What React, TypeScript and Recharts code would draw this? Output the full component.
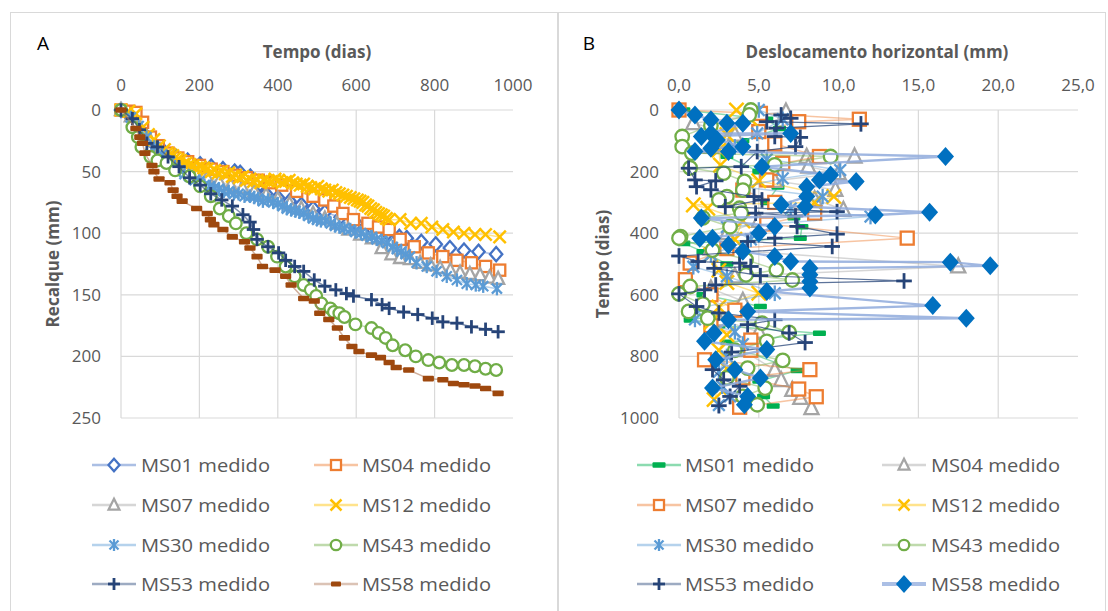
import React from 'react';
import { ScatterChart, Scatter, XAxis, YAxis, CartesianGrid, Legend, Label } from 'recharts';

// ---------- axis ticks ----------
const A_TIME_TICKS = [0, 200, 400, 600, 800, 1000];
const A_SETTLE_TICKS = [0, 50, 100, 150, 200, 250];
const B_DISP_TICKS = [0, 5, 10, 15, 20, 25];
const B_TIME_TICKS = [0, 200, 400, 600, 800, 1000];

// ---------- Panel A : [tempo (dias), recalque (mm)] ----------
const A_MS01 = [[0,0],[20,4],[40,12],[60,20],[85,28],[110,34],[140,38],[170,41],[202,44],[230,46],[260,48],[290,50],[304,51],[330,54],[355,60],[370,68],[400,71],[430,74],[460,77],[490,80],[520,83],[560,87],[600,92],[640,96],[680,100],[710,103],[729,104],[766,107],[803,109],[839,112],[875,114],[912,115],[957,117]];
const A_MS04 = [[0,0],[20,1],[38,2],[55,10],[75,22],[95,29],[120,35],[145,39],[170,42],[200,45],[230,48],[260,50],[290,53],[320,55],[350,57],[380,59],[410,61],[448,66],[490,70],[520,73],[543,78],[566,84],[593,89],[630,92],[657,95],[684,97],[712,105],[748,111],[784,116],[821,119],[857,122],[894,124],[930,127],[966,130]];
const A_MS07 = [[0,0],[25,5],[50,15],[75,25],[100,33],[130,40],[160,46],[190,51],[220,55],[250,58],[280,61],[310,63],[340,66],[370,69],[400,72],[430,76],[460,80],[490,84],[520,88],[550,92],[580,97],[610,101],[640,104],[665,112],[690,117],[712,120],[737,121],[763,124],[790,126],[814,128],[840,130],[865,132],[890,133],[916,134],[940,136],[962,137]];
const A_MS12 = [[0,0],[20,1],[38,3],[56,14],[70,20],[84,24],[98,29],[111,32],[118,35],[125,36],[132,37],[138,39],[145,40],[152,41],[159,44],[166,43],[175,44],[184,45],[193,47],[202,46],[211,47],[220,48],[230,50],[239,49],[248,51],[257,50],[266,52],[275,51],[284,54],[293,53],[302,55],[311,54],[320,57],[329,56],[338,58],[347,57],[356,59],[365,57],[375,58],[384,58],[393,56],[402,57],[411,59],[420,58],[429,57],[438,59],[447,60],[457,61],[466,60],[475,62],[484,63],[493,64],[502,62],[511,64],[520,65],[530,66],[539,65],[548,67],[557,68],[566,69],[575,70],[585,71],[594,72],[603,73],[610,74],[617,75],[624,77],[630,78],[637,80],[644,81],[650,83],[657,84],[664,85],[670,86],[677,88],[684,89],[712,89],[739,92],[766,92],[793,95],[821,97],[848,99],[875,100],[903,101],[930,101],[966,103]];
const A_MS30 = [[0,0],[25,6],[45,13],[65,22],[85,30],[105,36],[125,42],[138,46],[150,49],[162,52],[175,54],[188,57],[200,58],[213,61],[227,62],[238,63],[250,64],[262,66],[275,66],[288,68],[300,68],[315,70],[329,70],[340,71],[350,72],[362,74],[375,73],[388,75],[400,76],[412,78],[423,80],[434,81],[445,82],[455,83],[466,84],[478,86],[490,88],[500,89],[510,90],[522,90],[535,92],[546,94],[557,95],[570,96],[585,97],[598,99],[612,100],[626,102],[640,103],[652,105],[665,106],[679,108],[693,111],[704,113],[715,115],[726,117],[737,119],[754,124],[780,127],[805,131],[831,135],[857,138],[882,141],[905,142],[924,143],[959,145]];
const A_MS43 = [[0,0],[29,14],[43,22],[52,30],[75,38],[93,41],[116,43],[138,49],[175,54],[202,62],[229,70],[252,80],[275,86],[293,92],[320,100],[347,105],[375,111],[398,119],[420,127],[443,135],[466,142],[484,146],[498,151],[511,157],[534,161],[543,164],[557,165],[570,168],[598,174],[639,177],[657,181],[675,185],[693,191],[725,195],[752,200],[784,203],[812,205],[844,207],[875,207],[903,208],[930,210],[957,211]];
const A_MS53 = [[0,0],[29,7],[47,16],[66,27],[93,30],[120,38],[148,46],[175,55],[202,61],[229,68],[257,73],[284,78],[311,85],[329,91],[338,97],[347,105],[375,111],[402,116],[420,122],[443,127],[466,131],[493,138],[520,143],[548,146],[575,149],[593,151],[639,154],[666,158],[684,161],[721,164],[757,166],[794,169],[821,172],[857,173],[894,176],[930,178],[962,180]];
const A_MS58 = [[0,0],[38,15],[48,22],[55,27],[61,35],[79,45],[84,50],[97,56],[125,59],[133,65],[143,70],[156,74],[193,80],[220,84],[228,89],[237,93],[260,97],[284,103],[315,107],[329,112],[347,119],[361,127],[393,130],[420,135],[434,142],[466,153],[493,155],[507,165],[530,170],[552,177],[570,185],[589,192],[607,196],[639,199],[662,201],[684,205],[702,209],[734,211],[784,218],[821,219],[848,222],[875,223],[903,224],[930,226],[962,230]];

// ---------- Panel B : [tempo (dias), deslocamento horizontal (mm)] ----------
const B_MS01 = [[0,0.3],[30,5.5],[60,6.3],[100,4.0],[150,3.0],[200,5.0],[250,6.2],[300,5.5],[350,7.2],[379,7.7],[416,7.6],[433,0.3],[460,1.5],[500,3.0],[550,4.0],[600,1.5],[638,5.1],[682,0.7],[700,2.5],[725,8.8],[754,3.0],[790,4.5],[846,7.4],[880,5.0],[930,5.3],[961,5.9]];
const B_MS04 = [[5,6.7],[43,0.9],[80,3.5],[120,2.0],[151,11.0],[152,8.0],[184,8.1],[205,10.0],[230,6.0],[259,9.8],[290,8.5],[324,10.3],[360,5.0],[400,3.0],[450,2.0],[508,17.5],[540,3.5],[580,2.0],[620,4.0],[680,2.5],[720,5.0],[780,4.0],[844,6.0],[877,6.4],[909,7.1],[935,7.6],[968,8.3]];
const B_MS07 = [[0,0],[11,5.1],[30,11.3],[38,7.5],[70,5.0],[110,6.0],[151,8.8],[173,6.5],[189,5.8],[227,5.5],[260,4.0],[300,6.0],[335,8.5],[370,5.5],[416,14.3],[450,3.0],[497,0.7],[551,0.4],[600,2.0],[650,3.5],[700,2.0],[747,4.5],[780,4.5],[811,1.6],[843,8.2],[870,4.0],[906,7.5],[931,8.6],[965,3.8]];
const B_MS12 = [[0,3.6],[30,4.5],[80,3.0],[130,2.5],[179,2.6],[230,5.0],[281,9.7],[300,8.5],[308,0.9],[319,1.8],[360,4.0],[420,3.5],[470,2.0],[520,2.5],[560,3.0],[595,5.0],[640,2.5],[690,2.0],[730,3.0],[780,2.5],[840,3.0],[900,2.5],[940,2.2]];
const B_MS30 = [[0,5.0],[30,6.5],[76,4.9],[120,3.5],[160,5.5],[195,10.1],[222,6.5],[250,4.0],[281,9.0],[320,7.0],[346,12.0],[380,3.0],[420,4.5],[470,2.0],[509,0.9],[540,3.0],[595,6.0],[640,1.5],[680,1.0],[720,3.5],[760,4.0],[800,3.0],[850,2.5],[897,2.7],[930,3.2],[958,2.5]];
const B_MS43 = [[0,4.5],[16,4.4],[50,2.0],[86,0.2],[119,0.2],[140,0.8],[151,9.5],[178,6.0],[188,0.7],[205,2.8],[232,4.1],[260,4.0],[281,3.0],[292,2.5],[319,3.8],[335,3.9],[350,1.5],[379,3.2],[411,0.1],[416,0],[455,2.1],[486,4.2],[519,6.1],[535,4.2],[552,7.1],[573,0.7],[597,0],[630,1.5],[654,0.6],[676,1.8],[692,5.2],[722,6.9],[751,5.5],[780,3.5],[813,6.5],[838,4.3],[870,3.0],[903,5.4],[930,4.0],[957,4.9]];
const B_MS53 = [[16,6.4],[27,7.0],[38,5.5],[45,11.4],[59,6.1],[86,6.0],[89,7.6],[119,7.3],[135,4.9],[184,3.9],[189,0.6],[227,1.0],[230,2.3],[249,1.1],[259,2.0],[281,4.7],[292,5.2],[314,2.9],[330,9.9],[335,4.8],[344,7.3],[378,7.4],[403,9.9],[416,6.0],[427,4.3],[443,9.6],[474,0],[492,1.2],[497,3.8],[508,4.5],[514,2.2],[538,5.1],[555,14.1],[568,2.3],[584,1.6],[597,0],[638,1.1],[659,2.5],[681,6.0],[697,4.3],[724,6.9],[755,7.9],[786,3.3],[843,2.1],[876,2.8],[897,3.8],[930,3.2],[960,2.5]];
const B_MS58 = [[0,0],[16,1.0],[32,2.0],[43,3.0],[43,4.0],[76,2.0],[76,7.0],[86,1.4],[97,2.4],[119,4.0],[124,2.0],[135,1.0],[135,3.1],[151,16.7],[184,5.2],[211,9.5],[227,8.8],[232,11.1],[249,8.0],[281,8.0],[308,6.4],[314,7.9],[332,15.7],[341,12.3],[351,1.4],[378,6.0],[400,5.0],[416,1.3],[416,2.1],[438,3.1],[459,4.0],[476,6.0],[492,7.0],[494,17.0],[506,19.5],[514,8.2],[535,8.2],[557,8.2],[578,8.2],[589,5.5],[635,15.9],[654,4.3],[676,18.0],[681,3.1],[724,2.2],[751,1.6],[778,5.5],[811,2.3],[843,3.5],[870,5.1],[903,2.1],[930,4.3],[957,4.1]];

// ---------- styles ----------
const FONT = '"Open Sans", "Noto Sans", sans-serif';
const TICK = { fill: '#595959', fontSize: 17, fontFamily: FONT };
const GRID = '#D9D9D9';
const fmtComma = (v: number) => v.toFixed(1).replace('.', ',');
const toA = (p: number[][]) => p.map(([t, r]) => ({ x: t, y: r }));
const toB = (p: number[][]) => p.map(([t, d]) => ({ x: d, y: t }));

type S = { name: string; data: { x: number; y: number }[]; kind: string; color: string; line: string; lw: number; lo: number };

const SERIES_A: S[] = [
  { name: 'MS01 medido', data: toA(A_MS01), kind: 'diamondO', color: '#4472C4', line: '#4472C4', lw: 1.5, lo: 0.45 },
  { name: 'MS04 medido', data: toA(A_MS04), kind: 'squareO', color: '#ED7D31', line: '#ED7D31', lw: 1.5, lo: 0.45 },
  { name: 'MS07 medido', data: toA(A_MS07), kind: 'triangleO', color: '#A5A5A5', line: '#A5A5A5', lw: 1.5, lo: 0.45 },
  { name: 'MS12 medido', data: toA(A_MS12), kind: 'x', color: '#FFC000', line: '#FFC000', lw: 1.5, lo: 0.45 },
  { name: 'MS30 medido', data: toA(A_MS30), kind: 'asterisk', color: '#5B9BD5', line: '#5B9BD5', lw: 1.5, lo: 0.45 },
  { name: 'MS43 medido', data: toA(A_MS43), kind: 'circleO', color: '#70AD47', line: '#70AD47', lw: 1.5, lo: 0.45 },
  { name: 'MS53 medido', data: toA(A_MS53), kind: 'plus', color: '#264478', line: '#264478', lw: 1.5, lo: 0.6 },
  { name: 'MS58 medido', data: toA(A_MS58), kind: 'dashBrown', color: '#9E480E', line: '#B07A5A', lw: 1.5, lo: 0.6 },
];

const SERIES_B: S[] = [
  { name: 'MS01 medido', data: toB(B_MS01), kind: 'dashGreen', color: '#00B050', line: '#00B050', lw: 1.5, lo: 0.45 },
  { name: 'MS04 medido', data: toB(B_MS04), kind: 'triangleO', color: '#A5A5A5', line: '#A5A5A5', lw: 1.5, lo: 0.45 },
  { name: 'MS07 medido', data: toB(B_MS07), kind: 'squareO', color: '#ED7D31', line: '#ED7D31', lw: 1.5, lo: 0.45 },
  { name: 'MS12 medido', data: toB(B_MS12), kind: 'x', color: '#FFC000', line: '#FFC000', lw: 1.5, lo: 0.45 },
  { name: 'MS30 medido', data: toB(B_MS30), kind: 'asterisk', color: '#5B9BD5', line: '#5B9BD5', lw: 1.5, lo: 0.45 },
  { name: 'MS43 medido', data: toB(B_MS43), kind: 'circleO', color: '#70AD47', line: '#70AD47', lw: 1.5, lo: 0.45 },
  { name: 'MS53 medido', data: toB(B_MS53), kind: 'plus', color: '#264478', line: '#264478', lw: 1.2, lo: 0.75 },
  { name: 'MS58 medido', data: toB(B_MS58), kind: 'diamondF', color: '#0070C0', line: '#8FAADC', lw: 2.4, lo: 0.85 },
];

function Marker({ kind, cx, cy, color, k = 1 }: { kind: string; cx: number; cy: number; color: string; k?: number }) {
  if (cx == null || cy == null || isNaN(cx) || isNaN(cy)) return <g />;
  switch (kind) {
    case 'diamondO': {
      const w = 5.5 * k, h = 6.3 * k;
      return <polygon points={`${cx},${cy - h} ${cx + w},${cy} ${cx},${cy + h} ${cx - w},${cy}`} fill="#fff" stroke={color} strokeWidth={2.3} />;
    }
    case 'squareO': {
      const s = 5 * k;
      return <rect x={cx - s} y={cy - s} width={2 * s} height={2 * s} fill="#fff" stroke={color} strokeWidth={2.3} />;
    }
    case 'triangleO': {
      const s = 5.4 * k;
      return <polygon points={`${cx},${cy - s * 1.15} ${cx + s},${cy + s * 0.85} ${cx - s},${cy + s * 0.85}`} fill="#fff" stroke={color} strokeWidth={2.3} />;
    }
    case 'circleO':
      return <circle cx={cx} cy={cy} r={5.2 * k} fill="#fff" stroke={color} strokeWidth={2.3} />;
    case 'x': {
      const s = 5.5 * k;
      return (
        <g stroke={color} strokeWidth={2.5}>
          <line x1={cx - s} y1={cy - s} x2={cx + s} y2={cy + s} />
          <line x1={cx - s} y1={cy + s} x2={cx + s} y2={cy - s} />
        </g>
      );
    }
    case 'asterisk': {
      const s = 6 * k, d = s * 0.75;
      return (
        <g stroke={color} strokeWidth={2.3}>
          <line x1={cx} y1={cy - s} x2={cx} y2={cy + s} />
          <line x1={cx - d} y1={cy - d} x2={cx + d} y2={cy + d} />
          <line x1={cx - d} y1={cy + d} x2={cx + d} y2={cy - d} />
        </g>
      );
    }
    case 'plus': {
      const s = 6 * k;
      return (
        <g stroke={color} strokeWidth={2.8}>
          <line x1={cx} y1={cy - s} x2={cx} y2={cy + s} />
          <line x1={cx - s} y1={cy} x2={cx + s} y2={cy} />
        </g>
      );
    }
    case 'dashBrown':
      return <rect x={cx - 5 * k} y={cy - 2.5 * k} width={10 * k} height={5 * k} rx={1} fill={color} />;
    case 'dashGreen':
      return <rect x={cx - 6.5} y={cy - 2.8} width={13} height={5.6} rx={1} fill={color} />;
    case 'diamondF': {
      const w = 8.5 * k, h = 9.5 * k;
      return <polygon points={`${cx},${cy - h} ${cx + w},${cy} ${cx},${cy + h} ${cx - w},${cy}`} fill={color} />;
    }
    default:
      return <circle cx={cx} cy={cy} r={4} fill={color} />;
  }
}

function LegendSvg({ items, width, colMarker, colText, rowsY, thickLast }: { items: S[]; width: number; colMarker: number[]; colText: number[]; rowsY: number[]; thickLast?: boolean }) {
  return (
    <svg width={width} height={170} style={{ display: 'block' }}>
      {items.map((s, i) => {
        const col = i % 2;
        const row = Math.floor(i / 2);
        const cx = colMarker[col];
        const cy = rowsY[row];
        const isThick = thickLast && i === items.length - 1;
        return (
          <g key={s.name}>
            <line x1={cx - 22} y1={cy} x2={cx + 22} y2={cy} stroke={s.line} strokeOpacity={isThick ? 0.75 : 0.45} strokeWidth={isThick ? 4 : 2.5} />
            <Marker kind={s.kind} cx={cx} cy={cy} color={s.color} k={s.kind === 'diamondF' ? 0.95 : 1} />
            <text x={colText[col]} y={cy + 6.5} fontSize={18} fill="#595959" fontFamily={FONT} textLength={129} lengthAdjust="spacingAndGlyphs">
              {s.name}
            </text>
          </g>
        );
      })}
    </svg>
  );
}

const titleStyle = { fontFamily: FONT, fontSize: 17, fontWeight: 700, fill: '#595959' } as const;

function PanelA() {
  return (
    <ScatterChart width={558} height={611} margin={{ top: 80, right: 45, bottom: 193, left: 71 }}>
      <CartesianGrid stroke={GRID} strokeWidth={1.2} verticalValues={[0, 200, 400, 600, 800]} horizontalValues={A_SETTLE_TICKS} />
      <XAxis type="number" dataKey="x" orientation="top" domain={[0, 1000]} ticks={A_TIME_TICKS} interval={0} axisLine={false} tickLine={false} tick={TICK} tickMargin={13} height={30}>
        <Label
          content={() => (
            <g>
              <text x={43} y={50} textAnchor="middle" fontFamily={FONT} fontSize={19} fill="#000">A</text>
              <text x={317} y={58} textAnchor="middle" {...titleStyle}>Tempo (dias)</text>
            </g>
          )}
        />
      </XAxis>
      <YAxis type="number" dataKey="y" reversed domain={[0, 250]} ticks={A_SETTLE_TICKS} interval={0} axisLine={false} tickLine={false} tick={TICK} tickMargin={14} width={50}>
        <Label
          content={() => (
            <text x={52} y={264} transform="rotate(-90 52 264)" textAnchor="middle" dominantBaseline="central" {...titleStyle}>Recalque (mm)</text>
          )}
        />
      </YAxis>
      {SERIES_A.map((s) => (
        <Scatter
          key={s.name}
          name={s.name}
          data={s.data}
          fill={s.color}
          isAnimationActive={false}
          line={{ stroke: s.line, strokeWidth: s.lw, strokeOpacity: s.lo }}
          shape={(p: any) => <Marker kind={s.kind} cx={p.cx} cy={p.cy} color={s.color} k={1.12} />}
        />
      ))}
      <Legend
        layout="vertical"
        align="center"
        verticalAlign="middle"
        wrapperStyle={{ left: 0, top: 440, width: 558, height: 170 }}
        content={() => <LegendSvg items={SERIES_A} width={558} colMarker={[114, 336]} colText={[141, 362]} rowsY={[25, 65, 105, 144]} />}
      />
    </ScatterChart>
  );
}

function PanelB() {
  return (
    <ScatterChart width={550} height={611} margin={{ top: 80, right: 30, bottom: 193, left: 71 }}>
      <CartesianGrid stroke={GRID} strokeWidth={1.2} verticalValues={[0, 5, 10, 15, 20]} horizontalValues={B_TIME_TICKS} />
      <XAxis type="number" dataKey="x" orientation="top" domain={[0, 25]} ticks={B_DISP_TICKS} interval={0} tickFormatter={fmtComma} axisLine={false} tickLine={false} tick={TICK} tickMargin={13} height={30}>
        <Label
          content={() => (
            <g>
              <text x={31} y={50} textAnchor="middle" fontFamily={FONT} fontSize={19} fill="#000">B</text>
              <text x={319} y={58} textAnchor="middle" {...titleStyle}>Deslocamento horizontal (mm)</text>
            </g>
          )}
        />
      </XAxis>
      <YAxis type="number" dataKey="y" reversed domain={[0, 1000]} ticks={B_TIME_TICKS} interval={0} axisLine={false} tickLine={false} tick={TICK} tickMargin={14} width={50}>
        <Label
          content={() => (
            <text x={44} y={264} transform="rotate(-90 44 264)" textAnchor="middle" dominantBaseline="central" {...titleStyle}>Tempo (dias)</text>
          )}
        />
      </YAxis>
      {SERIES_B.map((s) => (
        <Scatter
          key={s.name}
          name={s.name}
          data={s.data}
          fill={s.color}
          isAnimationActive={false}
          line={{ stroke: s.line, strokeWidth: s.lw, strokeOpacity: s.lo }}
          shape={(p: any) => <Marker kind={s.kind} cx={p.cx} cy={p.cy} color={s.color} k={s.kind === 'diamondF' ? 1 : 1.3} />}
        />
      ))}
      <Legend
        layout="vertical"
        align="center"
        verticalAlign="middle"
        wrapperStyle={{ left: 0, top: 440, width: 550, height: 170 }}
        content={() => <LegendSvg items={SERIES_B} width={550} colMarker={[101, 346]} colText={[127, 373]} rowsY={[25, 65, 105, 144]} thickLast />}
      />
    </ScatterChart>
  );
}

export default function App() {
  return (
    <div style={{ position: 'absolute', left: 0, top: 0, width: 1108, height: 611, background: '#fff', overflow: 'hidden', fontFamily: FONT }}>
      <div style={{ position: 'absolute', left: 10, top: 12, width: 1096, height: 640, border: '1.5px solid #D9D9D9', boxSizing: 'border-box' }} />
      <div style={{ position: 'absolute', left: 557, top: 12, width: 1.5, height: 640, background: '#D9D9D9' }} />
      <div style={{ position: 'absolute', left: 0, top: 0 }}>
        <PanelA />
      </div>
      <div style={{ position: 'absolute', left: 558, top: 0 }}>
        <PanelB />
      </div>
    </div>
  );
}
